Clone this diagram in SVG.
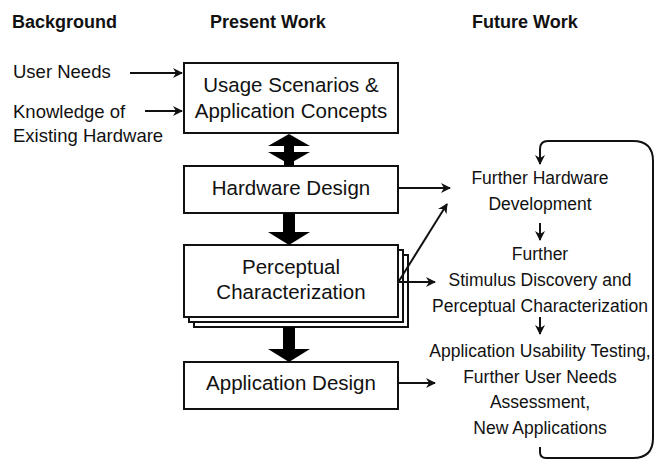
<svg xmlns="http://www.w3.org/2000/svg" width="657" height="460" viewBox="0 0 657 460">
<style>
text{font-family:"Liberation Sans",Arial,Helvetica,sans-serif;fill:#111}
.h{font-weight:bold;font-size:18px}
.l{font-size:18.5px}
.b{font-size:20.5px;text-anchor:middle}
.r{font-size:17.5px;text-anchor:middle}
.box{fill:#fff;stroke:#111;stroke-width:2}
.ln{fill:none;stroke:#111;stroke-width:2}
.big{fill:#000}
</style>
<defs>
<marker id="ah" markerWidth="10" markerHeight="10" refX="9" refY="5" orient="auto" markerUnits="userSpaceOnUse">
<path d="M0,0 L10,5 L0,10 L3,5 z" fill="#111"/>
</marker>
</defs>
<g id="headers">
<text class="h" x="12" y="28">Background</text>
<text class="h" x="210" y="28">Present Work</text>
<text class="h" x="472" y="28">Future Work</text>
</g>
<g id="background">
<text class="l" x="13" y="78">User Needs</text>
<text class="l" x="13" y="118">Knowledge of</text>
<text class="l" x="13" y="142">Existing Hardware</text>
</g>
<g id="usage">
<rect class="box" x="184" y="63" width="214" height="70"/>
<text class="b" x="291" y="92">Usage Scenarios &amp;</text>
<text class="b" x="291" y="118">Application Concepts</text>
</g>
<g id="hardware">
<rect class="box" x="184" y="166" width="214" height="47"/>
<text class="b" x="291" y="195">Hardware Design</text>
</g>
<g id="perceptual">
<rect class="box" x="194" y="255" width="214" height="72"/>
<rect class="box" x="189" y="250" width="214" height="72"/>
<rect class="box" x="184" y="245" width="214" height="72"/>
<text class="b" x="291" y="274">Perceptual</text>
<text class="b" x="291" y="299">Characterization</text>
</g>
<g id="application">
<rect class="box" x="184" y="362" width="214" height="47"/>
<text class="b" x="291" y="390">Application Design</text>
</g>
<g id="future-hardware">
<text class="r" x="540" y="184">Further Hardware</text>
<text class="r" x="540" y="210">Development</text>
</g>
<g id="future-stimulus">
<text class="r" x="540" y="260">Further</text>
<text class="r" x="540" y="286">Stimulus Discovery and</text>
<text class="r" x="540" y="312">Perceptual Characterization</text>
</g>
<g id="future-app">
<text class="r" x="540" y="357">Application Usability Testing,</text>
<text class="r" x="540" y="383">Further User Needs</text>
<text class="r" x="540" y="408">Assessment,</text>
<text class="r" x="540" y="434">New Applications</text>
</g>
<g id="connectors">
<line class="ln" x1="130" y1="73" x2="182" y2="73" marker-end="url(#ah)"/>
<line class="ln" x1="145" y1="111" x2="182" y2="111" marker-end="url(#ah)"/>
<polygon class="big" points="289,134 310,146 294,146 294,152 310,152 289,164 268,152 284,152 284,146 268,146"/>
<rect class="big" x="284" y="160" width="10" height="6"/>
<polygon class="big" points="283,213 295,213 295,232 310,232 289,245 268,232 283,232"/>
<polygon class="big" points="283,327 295,327 295,349 310,349 289,362 268,349 283,349"/>
<line class="ln" x1="398" y1="188" x2="450" y2="188" marker-end="url(#ah)"/>
<line class="ln" x1="399" y1="281" x2="447" y2="204" marker-end="url(#ah)"/>
<line class="ln" x1="399" y1="282" x2="435" y2="282" marker-end="url(#ah)"/>
<line class="ln" x1="398" y1="383" x2="435" y2="383" marker-end="url(#ah)"/>
<line class="ln" x1="540" y1="223" x2="540" y2="240" marker-end="url(#ah)"/>
<line class="ln" x1="540" y1="317" x2="540" y2="334" marker-end="url(#ah)"/>
<path class="ln" d="M540,447 L540,452 Q540,458 546,458 L633,458 Q653,458 653,438 L653,161 Q653,141 633,141 L548,141 Q540,141 540,149 L540,164" marker-end="url(#ah)"/>
</g>
</svg>
